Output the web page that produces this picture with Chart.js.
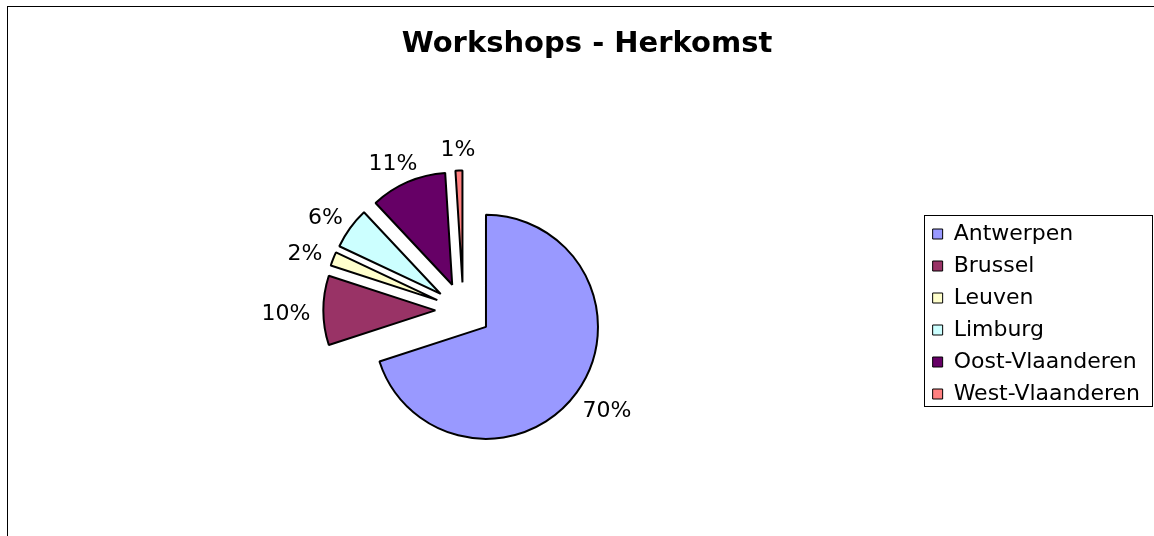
<!DOCTYPE html>
<html>
<head>
<meta charset="utf-8">
<script src="https://cdn.jsdelivr.net/npm/chart.js@4.4.1/dist/chart.umd.min.js"></script>
<style>
  html, body { margin: 0; padding: 0; background: #fff; overflow: hidden; }
  #frame { position: absolute; left: 7px; top: 6px; width: 1300px; height: 700px; border: 1px solid #000; }
  #wrap { position: absolute; left: 0; top: 0; width: 1154px; height: 536px; }
</style>
</head>
<body>
<div id="frame"></div>
<div id="wrap"><canvas id="pieChart"></canvas></div>
<script>
// Chart data
const labels = ['Antwerpen', 'Brussel', 'Leuven', 'Limburg', 'Oost-Vlaanderen', 'West-Vlaanderen'];
const values = [70, 10, 2, 6, 11, 1];
const colors = ['#9999FF', '#993366', '#FFFFCC', '#CCFFFF', '#660066', '#FF8080'];

const FONT = 'Verdana, "DejaVu Sans", sans-serif';
const EXPLODE = 28;   // every slice is pulled out by this much
const LABEL_GAP = 13;

// Draw each arc shifted outward along its mid angle
const explodePlugin = {
  id: 'explode',
  beforeDatasetDraw(chart, args) {
    const ctx = chart.ctx;
    args.meta.data.forEach(arc => {
      const mid = (arc.startAngle + arc.endAngle) / 2;
      ctx.save();
      ctx.translate(Math.cos(mid) * EXPLODE, Math.sin(mid) * EXPLODE);
      arc.draw(ctx, chart.chartArea);
      ctx.restore();
    });
    return false;
  }
};

// Percentage labels just outside each slice
const percentLabels = {
  id: 'percentLabels',
  afterDatasetsDraw(chart) {
    const ctx = chart.ctx;
    const meta = chart.getDatasetMeta(0);
    const total = values.reduce((a, b) => a + b, 0);
    ctx.save();
    ctx.font = '22px ' + FONT;
    ctx.fillStyle = '#000';
    ctx.textAlign = 'center';
    ctx.textBaseline = 'middle';
    meta.data.forEach((arc, i) => {
      const mid = (arc.startAngle + arc.endAngle) / 2;
      const dx = Math.cos(mid), dy = Math.sin(mid);
      const text = Math.round(values[i] / total * 100) + '%';
      const w = ctx.measureText(text).width;
      const r = arc.outerRadius + EXPLODE + LABEL_GAP;
      ctx.fillText(text, arc.x + dx * (r + w / 2), arc.y + dy * (r + 11) + 4);
    });
    ctx.restore();
  }
};

// Box around the legend
const legendBorder = {
  id: 'legendBorder',
  afterDraw(chart) {
    const boxes = chart.legend.legendHitBoxes;
    if (!boxes || !boxes.length) return;
    const ctx = chart.ctx;
    const left = Math.round(Math.min(...boxes.map(b => b.left)) - 9);
    const right = Math.round(Math.max(...boxes.map(b => b.left + b.width)) + 12);
    const top = Math.round(boxes[0].top - 8);
    const last = boxes[boxes.length - 1];
    const bottom = Math.round(last.top + last.height + 1);
    ctx.save();
    ctx.strokeStyle = '#000';
    ctx.lineWidth = 1;
    ctx.strokeRect(left + 0.5, top + 0.5, right - left, bottom - top);
    ctx.restore();
  }
};

// Title is centred over the whole frame, a bit right of the canvas centre
const titleShift = {
  id: 'titleShift',
  afterLayout(chart) {
    if (chart.titleBlock) {
      chart.titleBlock.left += 10;
      chart.titleBlock.right += 10;
    }
  }
};

Chart.defaults.color = '#000';
Chart.defaults.font.family = FONT;

const ctx = document.getElementById('pieChart').getContext('2d');
const pieChart = new Chart(ctx, {
  type: 'pie',
  data: {
    labels: labels,
    datasets: [{
      data: values,
      backgroundColor: colors,
      borderColor: '#000',
      borderWidth: 2,
      radius: 112,
    }],
  },
  options: {
    responsive: true,
    maintainAspectRatio: false,
    animation: false,
    events: [],
    layout: {
      padding: { left: 4, right: 4, top: 0, bottom: 0 },
    },
    plugins: {
      title: {
        display: true,
        text: 'Workshops - Herkomst',
        font: { size: 29, weight: 'bold' },
        padding: { top: 27, bottom: 23 },
      },
      legend: {
        position: 'right',
        fullSize: false,
        title: { display: true, text: '', padding: 0, font: { size: 6 } },
        labels: {
          boxWidth: 10,
          boxHeight: 10,
          padding: 10,
          font: { size: 22 },
          generateLabels(chart) {
            const items = Chart.overrides.pie.plugins.legend.labels.generateLabels(chart);
            items.forEach(it => { it.lineWidth = 1; it.strokeStyle = '#000'; });
            return items;
          },
        },
      },
      tooltip: { enabled: false },
    },
  },
  plugins: [explodePlugin, percentLabels, legendBorder, titleShift],
});
</script>
</body>
</html>
